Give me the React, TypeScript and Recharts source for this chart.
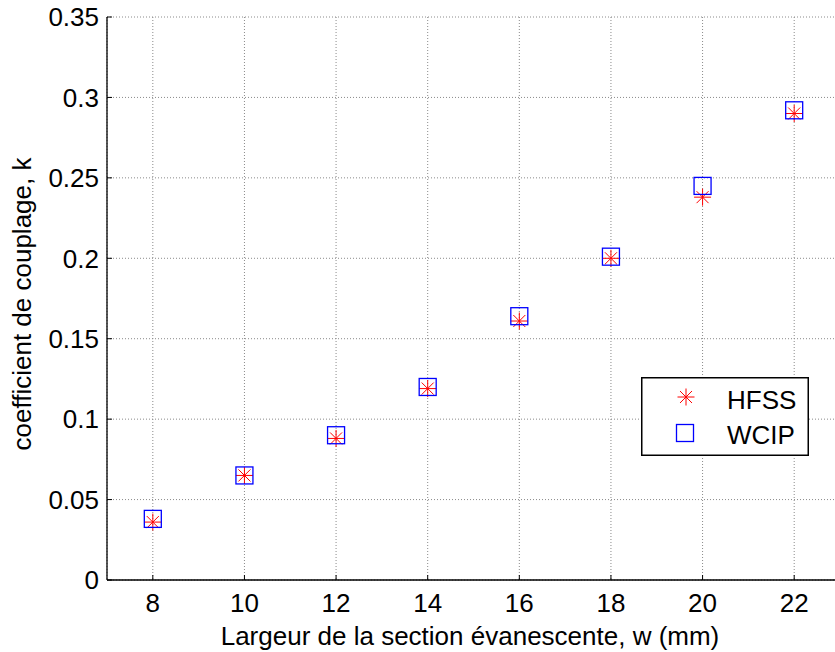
import React from "react";
import {
  ScatterChart,
  Scatter,
  XAxis,
  YAxis,
  CartesianGrid,
} from "recharts";

const widths = [8, 10, 12, 14, 16, 18, 20, 22];
const hfss = [0.036, 0.065, 0.088, 0.119, 0.161, 0.2, 0.238, 0.29];
const wcip = [0.038, 0.065, 0.09, 0.12, 0.164, 0.201, 0.245, 0.292];
const xTicks = [8, 10, 12, 14, 16, 18, 20, 22];
const yTicks = [0, 0.05, 0.1, 0.15, 0.2, 0.25, 0.3, 0.35];

const hfssData = widths.map((w, i) => ({ w, k: hfss[i] }));
const wcipData = widths.map((w, i) => ({ w, k: wcip[i] }));

const FONT = '"Liberation Sans", Arial, sans-serif';
const FS = 26;
const X_MARGIN = 14;
const Y_MARGIN = 8;
const TICK_LEN = 5;

const Asterisk = ({ cx, cy }: any) => {
  const r = 8.5;
  const d = r * 0.707;
  return (
    <g stroke="#ff0000" strokeWidth={1}>
      <line x1={cx - r} y1={cy} x2={cx + r} y2={cy} />
      <line x1={cx} y1={cy - r} x2={cx} y2={cy + r} />
      <line x1={cx - d} y1={cy - d} x2={cx + d} y2={cy + d} />
      <line x1={cx - d} y1={cy + d} x2={cx + d} y2={cy - d} />
    </g>
  );
};

const Square = ({ cx, cy }: any) => {
  const s = 8.5;
  return (
    <rect
      x={cx - s}
      y={cy - s}
      width={2 * s}
      height={2 * s}
      fill="none"
      stroke="#0000ff"
      strokeWidth={1.3}
    />
  );
};

const BottomTick = ({ x, y, payload }: any) => (
  <g>
    <line x1={x} x2={x} y1={y - X_MARGIN} y2={y - X_MARGIN - TICK_LEN} stroke="#000" />
    <text x={x} y={y} dy="0.71em" textAnchor="middle" fill="#000" fontSize={FS} fontFamily={FONT}>
      {payload.value}
    </text>
  </g>
);

const LeftTick = ({ x, y, payload }: any) => (
  <g>
    <line x1={x + Y_MARGIN} x2={x + Y_MARGIN + TICK_LEN} y1={y} y2={y} stroke="#000" />
    <text x={x} y={y} dy="0.355em" textAnchor="end" fill="#000" fontSize={FS} fontFamily={FONT}>
      {payload.value}
    </text>
  </g>
);

const TopTick = ({ x, y }: any) => (
  <line x1={x} x2={x} y1={y} y2={y + TICK_LEN} stroke="#000" />
);

const RightTick = ({ x, y }: any) => (
  <line x1={x} x2={x - TICK_LEN} y1={y} y2={y} stroke="#000" />
);

const LegendBox = () => (
  <svg width={168} height={79} style={{ display: "block" }}>
    <rect x={0.75} y={0.75} width={166.5} height={77.5} fill="#fff" stroke="#000" strokeWidth={1.5} />
    <Asterisk cx={45} cy={20} />
    <Square cx={44} cy={56} />
    <text x={86} y={32} fontSize={FS} fontFamily={FONT} fill="#000">HFSS</text>
    <text x={86} y={67} fontSize={FS} fontFamily={FONT} fill="#000">WCIP</text>
  </svg>
);

export default function App() {
  return (
    <div
      style={{
        position: "fixed",
        left: 0,
        top: 0,
        width: 835,
        height: 652,
        overflow: "hidden",
        background: "#fff",
      }}
    >
      <ScatterChart width={845} height={652} margin={{ top: 17, right: 5, bottom: 0, left: 0 }}>
        <CartesianGrid stroke="#8a8a8a" strokeDasharray="1 2" />
        <XAxis
          dataKey="w"
          type="number"
          domain={[7, 23]}
          ticks={xTicks}
          height={72}
          tickSize={0}
          tickMargin={X_MARGIN}
          tickLine={false}
          tick={<BottomTick />}
          axisLine={{ stroke: "#000", strokeWidth: 1.3 }}
          label={{
            content: () => (
              <text x={470} y={645} textAnchor="middle" fontSize={FS} fontFamily={FONT} fill="#000">
                Largeur de la section évanescente, w (mm)
              </text>
            ),
          }}
        />
        <XAxis
          xAxisId="top"
          orientation="top"
          type="number"
          domain={[7, 23]}
          ticks={xTicks}
          height={0}
          tickSize={0}
          tickLine={false}
          tick={<TopTick />}
          axisLine={{ stroke: "#000", strokeWidth: 1.3 }}
        />
        <YAxis
          dataKey="k"
          type="number"
          domain={[0, 0.35]}
          ticks={yTicks}
          width={107}
          tickSize={0}
          tickMargin={Y_MARGIN}
          tickLine={false}
          tick={<LeftTick />}
          axisLine={{ stroke: "#000", strokeWidth: 1.3 }}
          label={{
            content: () => (
              <text
                x={0}
                y={0}
                transform="translate(31,304) rotate(-90)"
                textAnchor="middle"
                fontSize={FS}
                fontFamily={FONT}
                fill="#000"
              >
                coefficient de couplage, k
              </text>
            ),
          }}
        />
        <YAxis
          yAxisId="right"
          orientation="right"
          type="number"
          domain={[0, 0.35]}
          ticks={yTicks}
          width={0}
          tickSize={0}
          tickLine={false}
          tick={<RightTick />}
          axisLine={{ stroke: "#000", strokeWidth: 1.3 }}
        />
        <Scatter data={hfssData} shape={<Asterisk />} isAnimationActive={false} />
        <Scatter data={wcipData} shape={<Square />} isAnimationActive={false} />
      </ScatterChart>
      <div style={{ position: "absolute", left: 641, top: 377 }}>
        <LegendBox />
      </div>
    </div>
  );
}
